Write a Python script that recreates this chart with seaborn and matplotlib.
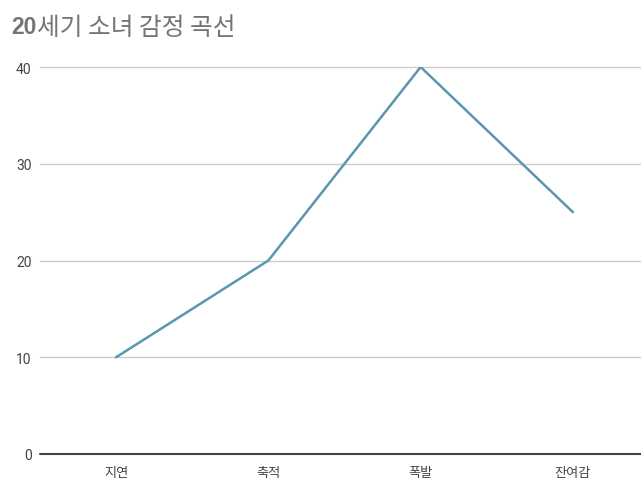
import matplotlib
matplotlib.use("Agg")
import matplotlib.pyplot as plt
import seaborn as sns
import pandas as pd

categories = ["지연", "축적", "폭발", "잔여감"]
values = [10, 20, 40, 25]
yticks = [0, 10, 20, 30, 40]
title_num = "20"
title_rest = "세기 소녀 감정 곡선"

sns.set_theme(style="white")
plt.rcParams['font.family'] = ['Noto Sans CJK KR', 'DejaVu Sans']

df = pd.DataFrame({"stage": categories, "value": values})

fig = plt.figure(figsize=(6.41, 4.81), dpi=100)
W, H = 641, 481
left, right, top, bottom = 40, 649, 68, 455
ax = fig.add_axes([left / W, 1 - bottom / H, (right - left) / W, (bottom - top) / H])

sns.lineplot(data=df, x="stage", y="value", ax=ax, color="#5a96b0",
             linewidth=1.8, sort=False)

ax.set_xlim(-0.5, 3.5)
ax.set_ylim(0, 40)
ax.set_yticks(yticks)
ax.set_yticklabels([str(t) for t in yticks], fontsize=10, color="#444444",
                   family=['Roboto', 'DejaVu Sans'])
ax.set_xticks(range(len(categories)))
ax.set_xticklabels(categories, fontsize=9.5, color="#444444")
ax.tick_params(axis='both', length=0)
ax.tick_params(axis='y', pad=6)
ax.tick_params(axis='x', pad=9)
for t in yticks[1:]:
    ax.axhline(t, color="#cccccc", linewidth=1, zorder=0, clip_on=False)
ax.axhline(0, color="#444444", linewidth=1.5, zorder=3, clip_on=False)
for s in ax.spines.values():
    s.set_visible(False)
ax.set_xlabel("")
ax.set_ylabel("")
ax.grid(False)

t1 = fig.text(11 / W, 1 - 34 / H, title_num, fontsize=16.5, fontweight='bold',
              color="#757575", family=['Liberation Sans', 'DejaVu Sans'],
              va='baseline', ha='left')
fig.canvas.draw()
bb = t1.get_window_extent()
fig.text((bb.x1 + 1) / W, 1 - 35 / H, title_rest, fontsize=17.8, color="#757575",
         fontweight='light', va='baseline', ha='left')

fig.savefig("out.png", dpi=100)
